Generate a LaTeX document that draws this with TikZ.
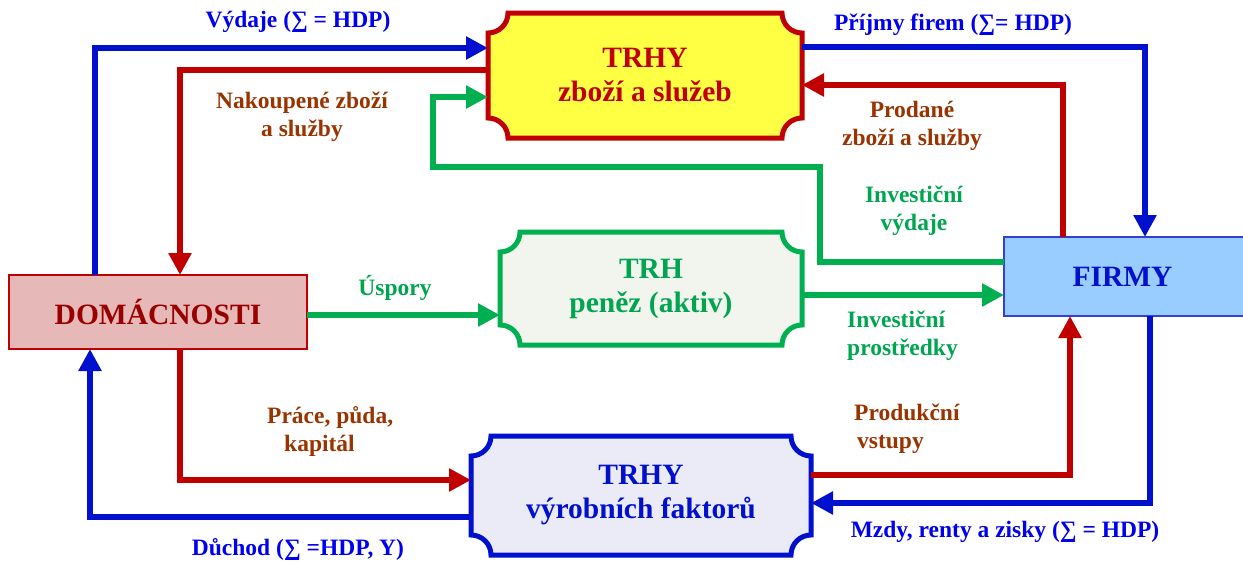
\documentclass[tikz,border=0pt]{standalone}
\usepackage{fontspec}
\setmainfont{Liberation Serif}
\usetikzlibrary{arrows.meta,calc,backgrounds}
\definecolor{cRed}{HTML}{C00000}
\definecolor{cBlue}{HTML}{0010CC}
\definecolor{cGreen}{HTML}{00B050}
\definecolor{cBrown}{HTML}{993300}
\definecolor{cLblue}{HTML}{0000EE}
\definecolor{cYellow}{HTML}{FFFF44}
\definecolor{cMoney}{HTML}{F2F5EE}
\definecolor{cLav}{HTML}{EBEBF8}
\definecolor{cPink}{HTML}{E6B8B7}
\definecolor{cSky}{HTML}{99CCFF}
\definecolor{cDomText}{HTML}{990000}
\definecolor{cGreenText}{HTML}{00A550}
\newcommand\tkt[3]{%
 \begin{pgfonlayer}{background}
 \draw[line width=5pt,draw=#2,fill=#3]
  ([yshift=-20pt]#1.north west) arc[start angle=-90,end angle=0,radius=20pt]
  -- ([xshift=-20pt]#1.north east) arc[start angle=180,end angle=270,radius=20pt]
  -- ([yshift=20pt]#1.south east) arc[start angle=90,end angle=180,radius=20pt]
  -- ([xshift=20pt]#1.south west) arc[start angle=0,end angle=90,radius=20pt]
  -- cycle;
 \end{pgfonlayer}}
\begin{document}
\begin{tikzpicture}[x=1pt,y=1pt,
  tk/.style={inner sep=0,outer sep=0,align=center,font=\fontsize{29.5}{34}\selectfont\bfseries},
  rbox/.style={draw,line width=2pt,inner sep=0,outer sep=0,font=\fontsize{29.5}{34}\selectfont\bfseries},
  arr/.style={line width=6pt,line join=miter,-{Triangle[length=22pt,width=22pt]}},
  lab/.style={inner sep=0,align=center,font=\fontsize{23.5}{28}\selectfont\bfseries}]
\useasboundingbox (0,0) rectangle (1243,-562);

% boxes
\node[tk,minimum width=314pt,minimum height=125pt,text=cRed] (tz) at (645,-75.5) {TRHY\\zboží a služeb};
\tkt{tz}{cRed}{cYellow}
\node[tk,minimum width=302pt,minimum height=113pt,text=cGreenText] (tp) at (651,-288.5) {TRH\\peněz (aktiv)};
\tkt{tp}{cGreen}{cMoney}
\node[tk,minimum width=340pt,minimum height=119pt,text=cBlue] (tv) at (641,-495.5) {TRHY\\výrobních faktorů};
\tkt{tv}{cBlue}{cLav}
\node[rbox,draw=cRed,fill=cPink,text=cDomText,minimum width=298pt,minimum height=74pt] (dom) at (158,-312) {DOMÁCNOSTI};
\node[rbox,draw=cBlue!80,fill=cSky,text=cBlue,minimum width=241pt,minimum height=79pt] (fir) at (1124.5,-276.5) {\hspace*{-4pt}FIRMY};

% connectors
\draw[arr,cBlue] ([xshift=86pt]dom.north west) |- ([yshift=-35pt]tz.north west);
\draw[arr,cRed] ([yshift=-57pt]tz.north west) -| ([xshift=171pt]dom.north west);
\draw[arr,cGreen] ([yshift=-25pt]fir.north west) -| ++(-184,95) -- ++(-387,0) |- ([yshift=-84pt]tz.north west);
\draw[arr,cBlue] ([yshift=-34pt]tz.north east) -| ([xshift=141pt]fir.north west);
\draw[arr,cRed] ([xshift=59pt]fir.north west) |- ([yshift=-72pt]tz.north east);
\draw[arr,cGreen] ([yshift=-3pt]dom.east) -- ([yshift=-26.5pt]tp.west);
\draw[arr,cGreen] ([yshift=-6.5pt]tp.east) -- ([yshift=-18.5pt]fir.west);
\draw[arr,cRed] ([xshift=171pt]dom.south west) |- ([yshift=-44pt]tv.north west);
\draw[arr,cBlue] ([yshift=-81pt]tv.north west) -| ([xshift=81pt]dom.south west);
\draw[arr,cRed] ([yshift=-39pt]tv.north east) -| ([xshift=66pt]fir.south west);
\draw[arr,cBlue] ([xshift=146pt]fir.south west) |- ([yshift=-67pt]tv.north east);

% labels
\node[lab,text=cLblue] (l1) at (298,-22) {Výdaje (∑ = HDP)};
\node[lab,text=cBrown] (l2) at (302,-117) {Nakoupené zboží\\a služby};
\node[lab,text=cLblue] (l3) at (953,-25) {Příjmy firem (∑= HDP)};
\node[lab,text=cBrown] (l4) at (912,-126) {Prodané\\zboží a služby};
\node[lab,text=cGreenText] (l5) at (914,-211) {Investiční\\výdaje};
\node[lab,text=cGreenText] (l6) at (395,-288) {Úspory};
\node[lab,text=cGreenText,align=left,anchor=west] (l7) at (847,-336) {Investiční\\prostředky};
\node[lab,text=cBrown,align=left,anchor=west] (l8) at (267,-431) {Práce, půda,\\\hspace*{17pt}kapitál};
\node[lab,text=cBrown,align=left,anchor=west] (l9) at (854,-429) {Produkční\\\hspace*{3pt}vstupy};
\node[lab,text=cLblue] (l10) at (298,-549) {Důchod (∑ =HDP, Y)};
\node[lab,text=cLblue] (l11) at (1005,-532) {Mzdy, renty a zisky (∑ = HDP)};
\end{tikzpicture}
\end{document}
